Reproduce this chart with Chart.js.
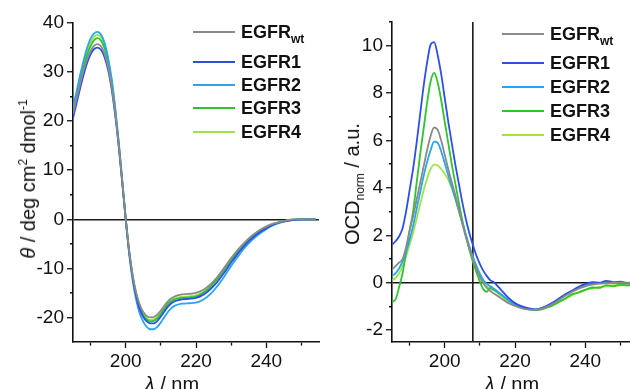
<!DOCTYPE html>
<html><head><meta charset="utf-8">
<script src="https://cdn.jsdelivr.net/npm/chart.js@4"></script>
<style>
html,body{margin:0;padding:0;background:#fff;overflow:hidden;width:630px;height:389px;}
#wrap{position:relative;width:630px;height:389px;overflow:hidden;font-family:"Liberation Sans",Arial,sans-serif;color:#111;}
canvas{position:absolute;top:0;}
#c1{left:0;}
#c2{left:330px;}
.ytitle{position:absolute;white-space:nowrap;font-size:20px;line-height:20px;transform:translate(-50%,-50%) rotate(-90deg);}
.xtitle{position:absolute;white-space:nowrap;font-size:20px;line-height:20px;transform:translateX(-50%);}
.row{position:absolute;height:24px;display:flex;align-items:center;white-space:nowrap;}
.row .ln{display:inline-block;width:42px;height:2px;margin-right:6px;}
.row .tx{font-weight:bold;font-size:18px;line-height:24px;}
.row sub{font-size:12px;vertical-align:-5px;line-height:0;}
sup{font-size:12px;vertical-align:8px;line-height:0;}
sub.t{font-size:12px;vertical-align:-5px;line-height:0;}
</style>
</head><body>
<div id="wrap">
<canvas id="c1" width="330" height="389"></canvas>
<canvas id="c2" width="320" height="389"></canvas>
<div class="ytitle" style="left:28px;top:179px;"><i>θ</i> / deg cm<sup>2</sup> dmol<sup>-1</sup></div>
<div class="ytitle" style="left:352px;top:184px;">OCD<sub class="t">norm</sub> / a.u.</div>
<div class="xtitle" style="left:172px;top:374px;"><i>λ</i> / nm</div>
<div class="xtitle" style="left:512px;top:374px;"><i>λ</i> / nm</div>
<div id="leg1"></div>
<div id="leg2"></div>
</div>
<script>
// ---- data ----
const wavelengths = [185,186,187,188,189,190,191,192,193,194,195,196,197,198,199,200,201,202,203,204,205,206,207,208,209,210,211,212,213,214,
  216,218,220,222,224,226,228,230,232,234,236,238,240,242,244,246,248,250,252,254];
const seriesNames = ['EGFR_wt','EGFR1','EGFR2','EGFR3','EGFR4'];
const seriesColors = ['#8a8a8a','#2f4fe3','#27a6ef','#2fc42f','#9ee348'];

// CD spectra (theta / deg cm2 dmol-1)
const cdWt    = [21.5,24.5,27.5,30.3,32.6,34.3,35.4,35.7,35.2,33.7,31.0,27.0,21.7,15.2,7.8,0.2,-6.5,-11.5,-15.0,-17.4,-18.9,-19.7,-20.0,-19.9,-19.4,-18.6,-17.6,-16.7,-16.1,-15.7,
  -15.3,-15.2,-15.0,-14.4,-13.3,-11.8,-9.9,-7.9,-6.1,-4.6,-3.3,-2.3,-1.5,-0.9,-0.5,-0.2,0,0,0,0];
const cdEgfr1 = [20.6,23.6,26.6,29.4,31.8,33.6,34.7,35.0,34.5,33.0,30.4,26.5,21.3,14.9,7.5,0,-6.8,-12.0,-15.7,-18.3,-19.9,-20.8,-21.2,-21.2,-20.7,-19.8,-18.8,-17.8,-17.1,-16.7,
  -16.3,-16.2,-16.0,-15.4,-14.3,-12.8,-10.9,-8.8,-6.9,-5.2,-3.8,-2.7,-1.8,-1.1,-0.6,-0.3,-0.1,0,0,0];
const cdEgfr2 = [22.8,26.0,29.3,32.3,34.9,36.8,37.9,38.2,37.6,35.9,32.9,28.6,22.8,15.9,8.0,0,-7.2,-12.6,-16.5,-19.2,-20.9,-21.9,-22.4,-22.4,-21.9,-21.0,-19.9,-18.9,-18.1,-17.6,
  -17.2,-17.1,-17.0,-16.4,-15.3,-13.7,-11.7,-9.5,-7.5,-5.7,-4.2,-3.0,-2.0,-1.2,-0.7,-0.3,-0.1,0,0,0];
const cdEgfr3 = [21.6,24.8,28.0,31.0,33.5,35.3,36.5,36.9,36.4,34.8,31.9,27.7,22.1,15.4,7.8,0.1,-6.6,-11.8,-15.4,-18.0,-19.6,-20.4,-20.8,-20.7,-20.2,-19.3,-18.3,-17.3,-16.7,-16.3,
  -16.0,-15.9,-15.7,-15.0,-13.8,-12.2,-10.3,-8.3,-6.5,-4.9,-3.5,-2.4,-1.6,-1.0,-0.5,-0.2,0,0,0,0];
const cdEgfr4 = [22.2,25.4,28.6,31.6,34.1,36.0,37.2,37.6,37.1,35.5,32.6,28.4,22.6,15.8,8.1,0.3,-6.4,-11.6,-15.2,-17.8,-19.4,-20.2,-20.5,-20.4,-19.9,-19.0,-18.0,-17.1,-16.5,-16.1,
  -15.8,-15.7,-15.5,-14.8,-13.6,-12.0,-10.1,-8.1,-6.3,-4.7,-3.4,-2.3,-1.5,-0.9,-0.5,-0.2,0,0,0,0];

// OCD spectra (normalised, a.u.)
const ocdWt    = [0.55,0.7,0.85,1.0,1.5,2.2,2.8,3.5,4.2,4.9,5.6,6.2,6.55,6.45,6.0,5.4,4.8,4.25,3.7,3.1,2.5,1.95,1.45,1.0,0.6,0.25,-0.02,-0.22,-0.35,-0.45,
  -0.65,-0.85,-0.98,-1.08,-1.13,-1.14,-1.08,-0.95,-0.78,-0.58,-0.4,-0.26,-0.15,-0.08,-0.04,-0.02,0,0,0,0];
const ocdEgfr1 = [1.6,1.75,1.95,2.3,3.0,3.9,4.8,5.9,7.1,8.3,9.3,10.05,10.15,9.6,8.8,7.8,6.8,5.9,5.0,4.2,3.4,2.7,2.1,1.6,1.15,0.8,0.5,0.28,0.1,0.02,
  -0.3,-0.62,-0.86,-1.0,-1.08,-1.12,-1.04,-0.9,-0.72,-0.52,-0.35,-0.18,-0.05,0.02,0.0,0.08,0.03,0.05,-0.02,0.02];
const ocdEgfr2 = [0.3,0.4,0.6,0.9,1.3,1.8,2.4,3.1,3.8,4.5,5.1,5.6,5.95,5.9,5.55,5.05,4.55,4.05,3.55,3.05,2.55,2.05,1.55,1.1,0.72,0.38,0.12,-0.05,-0.15,-0.25,
  -0.48,-0.72,-0.92,-1.05,-1.1,-1.13,-1.06,-0.92,-0.74,-0.55,-0.38,-0.22,-0.1,-0.04,-0.02,0.03,0.0,0.02,-0.03,0.0];
const ocdEgfr3 = [-0.8,-0.7,-0.2,0.4,1.3,2.2,3.0,4.2,5.4,6.5,7.6,8.5,8.85,8.45,7.7,6.8,5.9,5.0,4.2,3.4,2.65,2.0,1.4,0.9,0.45,0.05,-0.28,-0.38,-0.22,-0.3,
  -0.5,-0.72,-0.92,-1.05,-1.12,-1.15,-1.1,-1.0,-0.85,-0.7,-0.5,-0.42,-0.3,-0.2,-0.22,-0.1,-0.15,-0.08,-0.12,-0.05];
const ocdEgfr4 = [0.1,0.2,0.4,0.7,1.1,1.6,2.1,2.7,3.3,3.9,4.4,4.8,4.98,4.95,4.8,4.6,4.35,4.0,3.6,3.05,2.5,1.95,1.45,1.0,0.6,0.25,-0.02,-0.15,-0.25,-0.32,
  -0.55,-0.78,-0.96,-1.07,-1.12,-1.15,-1.1,-1.0,-0.86,-0.7,-0.55,-0.4,-0.3,-0.25,-0.18,-0.15,-0.1,-0.12,-0.06,-0.08];

const ocdMarkerWavelength = 208;
const xMin = 185, xMax = 255;
const cdMin = -25, cdMax = 40;
const ocdMin = -2.5, ocdMax = 11;
const cdMajorStep = 10, cdMinorStep = 5;
const ocdMajorStep = 2, ocdMinorStep = 1;
const xMajorStep = 20, xMinorStep = 10;

// ---- chart helpers ----
const FONT = {family: "'Liberation Sans', Arial, sans-serif", size: 19};
const TICK_LEN = 6, MINOR_LEN = 3;

function pts(ys){ return wavelengths.map((x,i)=>({x:x, y:ys[i]})); }
function seriesDatasets(list){
  return list.map((ys,i)=>({
    label: seriesNames[i], data: pts(ys), borderColor: seriesColors[i],
    borderWidth: 1.8, pointRadius: 0, fill: false, cubicInterpolationMode: 'monotone'
  }));
}
function isMajor(v, step){ return Math.abs(v/step - Math.round(v/step)) < 1e-6; }
// tick values strictly inside (min, max], multiples of step
function stepTicks(min, max, step){
  const out = [];
  for (let k = Math.ceil(min/step); k*step <= max + 1e-9; k++) {
    const v = Math.round(k*step*1000)/1000;
    if (v > min + 1e-9) out.push({value: v});
  }
  return out;
}

function xScale(){
  return {
    type: 'linear', min: xMin, max: xMax,
    afterFit: s => { s.height = 47; },
    afterBuildTicks: s => { s.ticks = stepTicks(xMin, xMax, xMinorStep); },
    ticks: {autoSkip: false, maxRotation: 0, minRotation: 0, color: '#111', font: FONT, padding: 2,
      callback: v => isMajor(v, xMajorStep) ? String(v) : ''},
    grid: {drawOnChartArea: false, tickLength: TICK_LEN, tickColor: '#111', tickWidth: 1.3,
      tickBorderDash: c => (c.tick && !isMajor(c.tick.value, xMajorStep)) ? [MINOR_LEN, 50] : []},
    border: {display: true, color: '#111', width: 1.6}
  };
}
function yScale(min, max, major, minor, width){
  return {
    type: 'linear', min: min, max: max,
    afterFit: s => { s.width = width; },
    afterBuildTicks: s => { s.ticks = stepTicks(min, max, minor); },
    ticks: {autoSkip: false, color: '#111', font: FONT, padding: 3,
      callback: v => isMajor(v, major) ? String(v) : ''},
    grid: {drawOnChartArea: true, lineWidth: 1.5, tickLength: TICK_LEN, tickColor: '#111', tickWidth: 1.3,
      color: c => (c.tick && Math.abs(c.tick.value) < 1e-9) ? '#1a1a1a' : 'rgba(0,0,0,0)',
      tickBorderDash: c => (c.tick && !isMajor(c.tick.value, major)) ? [0, TICK_LEN - MINOR_LEN, MINOR_LEN, 50] : []},
    border: {display: true, color: '#111', width: 1.6}
  };
}
function makeChart(id, datasets, yopts, padding){
  return new Chart(document.getElementById(id), {
    type: 'line',
    data: {datasets: datasets},
    options: {
      responsive: false, animation: false, devicePixelRatio: 1,
      layout: {padding: padding},
      plugins: {legend: {display: false}, tooltip: {enabled: false}},
      scales: {x: xScale(), y: yopts}
    }
  });
}

makeChart('c1', seriesDatasets([cdWt, cdEgfr1, cdEgfr2, cdEgfr3, cdEgfr4]),
  yScale(cdMin, cdMax, cdMajorStep, cdMinorStep, 73), {left: 0, top: 23, right: 11, bottom: 0});

const ocdSets = seriesDatasets([ocdWt, ocdEgfr1, ocdEgfr2, ocdEgfr3, ocdEgfr4]);
ocdSets.push({label: 'marker', data: [{x: ocdMarkerWavelength, y: ocdMin}, {x: ocdMarkerWavelength, y: ocdMax}],
  borderColor: '#1a1a1a', borderWidth: 1.6, pointRadius: 0, fill: false});
makeChart('c2', ocdSets, yScale(ocdMin, ocdMax, ocdMajorStep, ocdMinorStep, 62), {left: 0, top: 22, right: 12, bottom: 0});

// ---- HTML legends ----
function buildLegend(id, left, rowsY){
  const el = document.getElementById(id);
  seriesNames.forEach((name, i) => {
    const row = document.createElement('div');
    row.className = 'row';
    row.style.left = left + 'px';
    row.style.top = (rowsY[i] - 12) + 'px';
    const ln = document.createElement('span');
    ln.className = 'ln'; ln.style.background = seriesColors[i];
    const tx = document.createElement('span');
    tx.className = 'tx';
    const parts = name.split('_');
    tx.textContent = parts[0];
    if (parts[1]) { const sb = document.createElement('sub'); sb.textContent = parts[1]; tx.appendChild(sb); }
    row.appendChild(ln); row.appendChild(tx);
    el.appendChild(row);
  });
}
buildLegend('leg1', 193, [32, 62, 85, 108, 132]);
buildLegend('leg2', 502, [34, 63, 87, 111, 135]);
</script>
</body></html>
